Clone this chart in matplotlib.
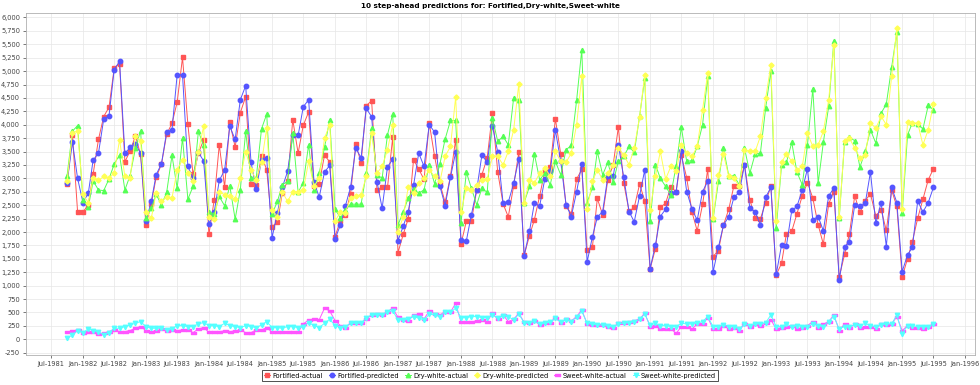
import numpy as np
import pandas as pd
import matplotlib
matplotlib.use("Agg")
import matplotlib.pyplot as plt
import matplotlib.dates as mdates
from matplotlib.ticker import FuncFormatter
from matplotlib.path import Path

# monthly values, Oct-1981 .. Jul-1995 (first row = Oct-Dec 1981, then one row per year)
fortified_actual = [
    2898, 3800, 2370,
    2369, 2511, 3079, 3728, 4151, 4326, 5054, 5138, 3310, 3508, 3790, 3446,
    2127, 2523, 3017, 3265, 3822, 4027, 4420, 5255, 4009, 3074, 3465, 3718,
    1954, 2604, 3626, 2836, 4042, 3584, 4225, 4523, 2892, 2876, 3420, 3159,
    2101, 2181, 2724, 2954, 4092, 3470, 3990, 4239, 2855, 2897, 3433, 3307,
    1914, 2214, 2320, 2714, 3633, 3295, 4358, 4446, 2787, 2836, 2830, 3763,
    1617, 1966, 2245, 3350, 3172, 2979, 4031, 3409, 2898, 2556, 3048, 3720,
    1773, 2202, 2202, 2780, 3066, 3384, 4217, 3116, 2525, 2283, 2861, 3489,
    1567, 1934, 2227, 2675, 3141, 3216, 4111, 3452, 2488, 2339, 2986, 3166,
    1667, 1729, 2625, 2320, 2973, 3253, 3956, 2917, 2388, 2457, 2892, 2581,
    1312, 1692, 2457, 2538, 2843, 2749, 3427, 3010, 2370, 2021, 2513, 3172,
    1543, 1654, 2127, 2426, 2867, 2867, 3253, 2600, 2270, 2245, 2550, 2861,
    1200, 1418, 1966, 2015, 2339, 2675, 2923, 2631, 2133, 1773, 2525, 2755,
    1157, 1586, 1966, 2675, 2364, 2587, 2712, 2301, 2413, 2028, 2780, 2476,
    1157, 1505, 1822, 2258, 2612, 2973, 3178,
]
fortified_pred = [
    2920, 3676, 2998,
    2550, 2724, 3340, 3471, 4099, 4167, 5030, 5181, 3465, 3576, 3645, 3465,
    2202, 2569, 3066, 3272, 3863, 3906, 4932, 4932, 3222, 3004, 3483, 3328,
    2152, 2376, 2961, 3154, 3968, 3726, 4466, 4727, 3303, 2799, 3340, 3371,
    1897, 2351, 2830, 3129, 3800, 3800, 4335, 4466, 2936, 2650, 3116, 3241,
    1866, 2133, 2476, 2836, 3564, 3384, 4304, 4149, 2936, 2444, 3216, 3353,
    1841, 2115, 2382, 2870, 3471, 3222, 4000, 3863, 2849, 2494, 3023, 3489,
    1854, 1835, 2320, 2787, 3433, 3303, 3981, 3489, 2538, 2556, 2905, 3365,
    1555, 2015, 2532, 2488, 2992, 3129, 3900, 3315, 2507, 2289, 2749, 3265,
    1443, 1916, 2277, 2382, 3035, 3035, 3626, 3023, 2382, 2190, 2675, 3160,
    1319, 1760, 2289, 2426, 2724, 2755, 3502, 2755, 2426, 2221, 2755, 2942,
    1256, 1717, 2127, 2289, 2650, 2737, 3253, 2444, 2376, 2133, 2650, 2830,
    1213, 1760, 1742, 2401, 2476, 2787, 3178, 2227, 2289, 2021, 2675, 2818,
    1107, 1717, 1822, 2507, 2476, 2538, 3116, 2165, 2550, 1729, 2830, 2550,
    1263, 1574, 1711, 2581, 2370, 2550, 2830,
]
drywhite_actual = [
    3052, 3880, 3985,
    2600, 2463, 2950, 2785, 2770, 2990, 3265, 3438, 2785, 3052, 3560, 3886,
    2258, 2445, 2700, 2507, 2737, 3427, 2818, 3751, 2612, 2849, 3875, 3614,
    2370, 2339, 2662, 2488, 2861, 2239, 2787, 3875, 3004, 3004, 3925, 4199,
    2339, 2569, 2880, 2942, 3844, 2737, 2923, 3626, 2787, 3098, 3577, 4093,
    2432, 2258, 2413, 2519, 2519, 2519, 3098, 3937, 3066, 3004, 3813, 4199,
    2133, 2382, 2631, 2800, 2724, 2787, 3253, 2898, 3272, 3732, 4080, 4080,
    2164, 3116, 2818, 2507, 2818, 2737, 4124, 3688, 3782, 3626, 4497, 4454,
    2550, 2849, 3458, 2973, 3098, 2880, 3315, 3066, 3533, 3614, 4454, 5399,
    2550, 2830, 3502, 3066, 3297, 2930, 3315, 3409, 3595, 3483, 4155, 4870,
    2196, 3253, 3004, 2849, 2693, 3234, 3956, 3315, 3334, 3595, 3999, 4901,
    2239, 2942, 3564, 3048, 3048, 2880, 3564, 3098, 3458, 3465, 4320, 5007,
    2071, 3253, 3297, 3670, 3116, 2880, 3626, 4671, 2911, 3670, 4342, 5567,
    2258, 3676, 3769, 3701, 3210, 3502, 3906, 3657, 4217, 4385, 5075, 5722,
    2351, 3813, 4031, 4018, 3919, 4360, 4279,
]
drywhite_pred = [
    2950, 3850, 3880,
    2700, 2550, 3000, 2961, 3035, 3000, 3100, 3720, 3035, 3000, 3794, 3700,
    2382, 2258, 2724, 2569, 2650, 2631, 3160, 3350, 3098, 2950, 3500, 3968,
    2289, 2239, 2755, 2693, 2662, 2612, 3004, 3500, 3160, 2973, 3300, 3937,
    2413, 2289, 2750, 2569, 2755, 2750, 2787, 3315, 2850, 3000, 3751, 4000,
    2196, 2382, 2351, 2631, 2675, 2693, 3035, 3850, 3098, 3222, 3533, 4000,
    2009, 2289, 2836, 2724, 2911, 3004, 3160, 3035, 2942, 3409, 3595, 4516,
    2364, 2818, 2787, 2880, 2973, 2986, 3409, 3409, 3253, 3502, 3900, 4765,
    2538, 2973, 2911, 3098, 3191, 3050, 3502, 3315, 3297, 3471, 4000, 4901,
    2420, 2942, 3160, 2973, 3098, 3253, 3564, 3440, 3253, 3564, 4143, 4932,
    2413, 3035, 3502, 2986, 3222, 3129, 3626, 3471, 3409, 3595, 4279, 4964,
    2258, 3066, 3450, 3035, 3000, 2849, 3533, 3502, 3502, 3782, 4497, 5119,
    2196, 3297, 3458, 3315, 3160, 3222, 3844, 3595, 3626, 3875, 4466, 5492,
    2289, 3688, 3751, 3564, 3378, 3440, 4031, 3937, 4155, 4000, 4901, 5803,
    2426, 4043, 4031, 4031, 3626, 3906, 4391,
]
sweetwhite_actual = [
    131, 155, 174,
    112, 131, 131, 100, 112, 143, 174, 143, 143, 162, 205, 236,
    162, 143, 155, 187, 162, 174, 162, 174, 174, 124, 193, 218,
    131, 143, 143, 155, 143, 155, 174, 124, 124, 174, 174, 218,
    131, 131, 143, 143, 143, 131, 286, 361, 373, 361, 580, 529,
    348, 255, 218, 298, 298, 298, 373, 454, 466, 454, 516, 578,
    410, 361, 342, 454, 466, 379, 529, 473, 454, 516, 504, 672,
    317, 317, 317, 348, 361, 330, 485, 373, 454, 330, 373, 485,
    317, 298, 348, 267, 311, 311, 404, 311, 373, 342, 423, 547,
    286, 267, 267, 267, 236, 218, 298, 298, 317, 342, 379, 485,
    236, 255, 187, 193, 193, 112, 236, 236, 193, 286, 286, 404,
    193, 193, 255, 193, 218, 162, 286, 236, 286, 249, 311, 361,
    193, 218, 236, 255, 193, 218, 255, 330, 218, 280, 330, 454,
    162, 286, 205, 286, 205, 236, 236, 193, 286, 267, 286, 423,
    162, 255, 205, 218, 193, 236, 280,
]
sweetwhite_pred = [
    19, 81, 162,
    124, 193, 162, 143, 81, 124, 205, 205, 236, 267, 298, 330,
    236, 205, 205, 205, 174, 193, 255, 255, 236, 236, 286, 311,
    255, 255, 236, 298, 255, 236, 218, 255, 236, 218, 267, 330,
    218, 218, 205, 236, 236, 218, 236, 311, 255, 218, 298, 373,
    255, 218, 236, 298, 298, 298, 404, 454, 454, 454, 516, 529,
    361, 361, 373, 423, 392, 361, 466, 454, 423, 516, 504, 578,
    404, 404, 423, 423, 404, 404, 454, 392, 435, 423, 361, 470,
    310, 300, 340, 280, 300, 320, 390, 320, 360, 330, 410, 520,
    300, 280, 270, 265, 245, 225, 290, 300, 310, 330, 370, 470,
    260, 298, 255, 255, 236, 236, 298, 286, 286, 298, 330, 423,
    236, 236, 267, 236, 236, 193, 286, 255, 286, 286, 311, 454,
    236, 236, 286, 236, 255, 236, 236, 286, 255, 236, 330, 423,
    193, 236, 236, 267, 255, 298, 255, 236, 267, 286, 286, 454,
    100, 255, 255, 236, 236, 236, 280,
]

dates = pd.date_range("1981-10-01", periods=len(fortified_actual), freq="MS")

# horizontal rectangle marker (like the JFreeChart shape)
hrect = Path([(-1, -0.5), (1, -0.5), (1, 0.5), (-1, 0.5), (-1, -0.5)],
             [Path.MOVETO, Path.LINETO, Path.LINETO, Path.LINETO, Path.CLOSEPOLY])

series = [
    ("Fortified-actual", fortified_actual, "#FF5555", "s", 3.0),
    ("Fortified-predicted", fortified_pred, "#5555FF", "o", 3.2),
    ("Dry-white-actual", drywhite_actual, "#55FF55", "^", 3.2),
    ("Dry-white-predicted", drywhite_pred, "#FFFF55", "D", 2.6),
    ("Sweet-white-actual", sweetwhite_actual, "#FF55FF", hrect, 3.6),
    ("Sweet-white-predicted", sweetwhite_pred, "#55FFFF", "v", 3.2),
]

fig = plt.figure(figsize=(9.8, 3.85), dpi=100)
ax = fig.add_axes([0.0262, 0.078, 0.9687, 0.888])

handles = []
for name, vals, col, mk, ms in series:
    h, = ax.plot(dates, vals, color=col, lw=0.7, marker=mk, ms=ms,
                 mec=col, mfc=col, label=name)
    handles.append(h)

ax.set_xlim(pd.Timestamp("1981-02-03"), pd.Timestamp("1996-02-27"))
ax.set_ylim(-293, 6082)

ax.set_yticks(np.arange(-250, 6001, 250))
ax.yaxis.set_major_formatter(FuncFormatter(lambda v, p: f"{int(v):,}"))
xt = pd.date_range("1981-07-01", "1996-01-01", freq="6MS")
ax.set_xticks(xt)
ax.xaxis.set_major_formatter(mdates.DateFormatter("%b-%Y"))

ax.tick_params(axis="both", labelsize=4.8, colors="#444444", length=2, width=0.5, pad=2)
ax.grid(True, color="#E6E6E6", lw=0.5)
ax.set_axisbelow(True)
for sp in ax.spines.values():
    sp.set_color("#B0B0B0")
    sp.set_linewidth(0.6)

fig.text(0.5, 0.992, "10 step-ahead predictions for: Fortified,Dry-white,Sweet-white",
         ha="center", va="top", fontsize=5.2, fontweight="bold")

leg = fig.legend(handles=handles, loc="center", bbox_to_anchor=(0.5, 0.024), ncol=6,
                 fontsize=4.8, frameon=True, fancybox=False, edgecolor="black",
                 handlelength=0.9, handletextpad=0.35, columnspacing=0.9,
                 borderpad=0.35)
leg.get_frame().set_linewidth(0.6)

plt.savefig("out.png", dpi=100)
